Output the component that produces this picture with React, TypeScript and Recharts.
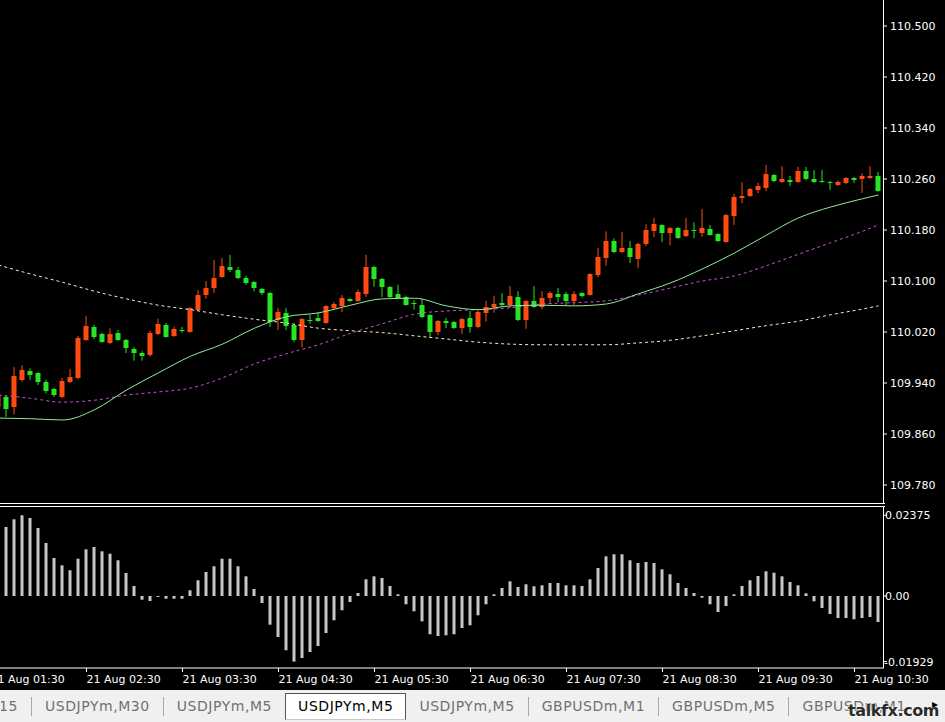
import React from "react";
import { Bar, ComposedChart, Line, XAxis, YAxis } from "recharts";

// candle index of the first entry (partly hidden behind the left edge)
const FIRST_BAR = -1;

const opens = [
  109.902, 109.918, 109.902, 109.945, 109.959, 109.956, 109.942, 109.931, 109.918, 109.942,
  109.948, 110.007, 110.028, 110.017, 110.003, 110.019, 110.007, 109.993, 109.987, 109.984,
  110.017, 110.031, 110.014, 110.023, 110.020, 110.055, 110.078, 110.089, 110.106, 110.122,
  110.117, 110.105, 110.098, 110.087, 110.081, 110.039, 110.050, 110.031, 110.007, 110.039,
  110.042, 110.034, 110.058, 110.061, 110.072, 110.069, 110.080, 110.122, 110.103, 110.091,
  110.080, 110.075, 110.066, 110.062, 110.047, 110.020, 110.037, 110.036, 110.026, 110.042,
  110.028, 110.050, 110.059, 110.066, 110.062, 110.075, 110.039, 110.069, 110.059, 110.073,
  110.080, 110.080, 110.069, 110.081, 110.078, 110.109, 110.136, 110.163, 110.146, 110.152,
  110.135, 110.158, 110.178, 110.188, 110.175, 110.183, 110.171, 110.180, 110.175, 110.182,
  110.174, 110.161, 110.202, 110.230, 110.233, 110.243, 110.246, 110.266, 110.255, 110.258,
  110.255, 110.273, 110.260, 110.257, 110.255, 110.251, 110.254, 110.262, 110.260, 110.262,
  110.265,
];
const highs = [
  109.924, 109.921, 109.965, 109.968, 109.963, 109.957, 109.945, 109.932, 109.948, 109.962,
  110.014, 110.045, 110.031, 110.019, 110.026, 110.023, 110.009, 109.996, 109.990, 110.022,
  110.041, 110.034, 110.028, 110.028, 110.059, 110.086, 110.100, 110.133, 110.136, 110.141,
  110.122, 110.108, 110.100, 110.089, 110.083, 110.058, 110.058, 110.033, 110.042, 110.047,
  110.051, 110.062, 110.067, 110.078, 110.073, 110.087, 110.141, 110.124, 110.105, 110.092,
  110.094, 110.077, 110.070, 110.072, 110.048, 110.039, 110.042, 110.037, 110.042, 110.053,
  110.053, 110.069, 110.077, 110.081, 110.092, 110.084, 110.070, 110.092, 110.084, 110.084,
  110.089, 110.083, 110.084, 110.083, 110.112, 110.152, 110.178, 110.167, 110.177, 110.163,
  110.160, 110.189, 110.199, 110.189, 110.185, 110.185, 110.199, 110.192, 110.213, 110.188,
  110.175, 110.205, 110.237, 110.255, 110.246, 110.254, 110.282, 110.268, 110.280, 110.265,
  110.279, 110.279, 110.274, 110.274, 110.257, 110.258, 110.263, 110.263, 110.269, 110.280,
  110.271,
];
const lows = [
  109.899, 109.887, 109.891, 109.942, 109.945, 109.937, 109.924, 109.918, 109.916, 109.940,
  109.946, 110.006, 110.009, 110.003, 110.001, 110.006, 109.987, 109.975, 109.975, 109.982,
  110.015, 110.011, 110.012, 110.019, 110.019, 110.053, 110.072, 110.081, 110.105, 110.114,
  110.103, 110.094, 110.084, 110.078, 110.028, 110.023, 110.023, 110.004, 109.996, 110.033,
  110.036, 110.033, 110.055, 110.051, 110.067, 110.067, 110.075, 110.091, 110.075, 110.073,
  110.072, 110.061, 110.055, 110.042, 110.011, 110.015, 110.026, 110.025, 110.017, 110.019,
  110.026, 110.036, 110.050, 110.059, 110.058, 110.037, 110.025, 110.058, 110.056, 110.066,
  110.067, 110.062, 110.062, 110.075, 110.077, 110.106, 110.124, 110.144, 110.144, 110.128,
  110.120, 110.155, 110.169, 110.161, 110.156, 110.166, 110.169, 110.167, 110.169, 110.171,
  110.161, 110.160, 110.188, 110.222, 110.232, 110.238, 110.241, 110.255, 110.254, 110.249,
  110.254, 110.258, 110.254, 110.254, 110.243, 110.249, 110.252, 110.254, 110.238, 110.260,
  110.240,
];
const closes = [
  109.921, 109.899, 109.951, 109.960, 109.953, 109.942, 109.928, 109.921, 109.943, 109.950,
  110.011, 110.030, 110.012, 110.004, 110.017, 110.007, 109.995, 109.987, 109.982, 110.019,
  110.033, 110.012, 110.025, 110.023, 110.058, 110.078, 110.089, 110.105, 110.124, 110.117,
  110.105, 110.097, 110.089, 110.081, 110.036, 110.051, 110.030, 110.007, 110.041, 110.039,
  110.037, 110.061, 110.064, 110.073, 110.069, 110.083, 110.122, 110.103, 110.091, 110.075,
  110.073, 110.062, 110.064, 110.044, 110.020, 110.037, 110.034, 110.026, 110.041, 110.028,
  110.051, 110.059, 110.064, 110.062, 110.077, 110.039, 110.069, 110.059, 110.073, 110.081,
  110.075, 110.069, 110.080, 110.077, 110.111, 110.138, 110.163, 110.146, 110.152, 110.138,
  110.158, 110.180, 110.189, 110.175, 110.183, 110.167, 110.180, 110.178, 110.183, 110.172,
  110.163, 110.203, 110.232, 110.233, 110.244, 110.249, 110.268, 110.257, 110.260, 110.255,
  110.273, 110.260, 110.255, 110.255, 110.254, 110.255, 110.262, 110.258, 110.265, 110.265,
  110.241,
];

// moving averages, read every 4th bar
const maIdx = [-1, 3, 7, 11, 15, 19, 23, 27, 31, 35, 39, 43, 47, 51, 55, 59, 63, 67, 71, 75, 79, 83, 87, 91, 95, 99, 103, 107, 109];
const maFast = [
  109.885, 109.884, 109.882, 109.898, 109.929, 109.956, 109.982, 110.001, 110.026, 110.044,
  110.050, 110.062, 110.072, 110.073, 110.061, 110.055, 110.061, 110.062, 110.061, 110.064,
  110.080, 110.097, 110.119, 110.144, 110.172, 110.199, 110.216, 110.229, 110.235,
];
const maMid = [
  109.921, 109.916, 109.910, 109.913, 109.921, 109.926, 109.932, 109.948, 109.970, 109.986,
  110.000, 110.018, 110.033, 110.048, 110.053, 110.055, 110.058, 110.064, 110.066, 110.069,
  110.078, 110.089, 110.100, 110.108, 110.124, 110.142, 110.160, 110.178, 110.188,
];
const maSlow = [
  110.125, 110.111, 110.098, 110.084, 110.072, 110.062, 110.055, 110.047, 110.040, 110.034,
  110.026, 110.022, 110.019, 110.014, 110.009, 110.004, 110.001, 110.000, 110.000, 110.000,
  110.003, 110.007, 110.014, 110.022, 110.030, 110.037, 110.047, 110.056, 110.061,
];

// oscillator histogram, bars 0..109
const osma = [
  0.0203, 0.02255, 0.02375, 0.02293, 0.02, 0.01558, 0.01117, 0.00903, 0.00756, 0.01097,
  0.01373, 0.01441, 0.01314, 0.01244, 0.0105, 0.00676, 0.00294, -0.00109, -0.00147, -0.0003,
  -0.0008, -0.0008, -0.0008, 0.00168, 0.00462, 0.00706, 0.00873, 0.01097, 0.01097, 0.00873,
  0.00579, 0.00206, -0.00206, -0.00844, -0.01205, -0.01596, -0.01929, -0.01823, -0.01646, -0.0147,
  -0.01088, -0.00714, -0.0042, -0.00176, 0.00088, 0.00491, 0.00579, 0.00529, 0.00294, 0.0005,
  -0.00244, -0.0045, -0.00744, -0.01126, -0.01176, -0.01155, -0.01126, -0.00941, -0.00861, -0.00567,
  -0.00244, 0.0005, 0.00235, 0.00432, 0.00265, 0.00344, 0.00285, 0.00315, 0.00382, 0.00382,
  0.00315, 0.00315, 0.00294, 0.00491, 0.00823, 0.01167, 0.01226, 0.01226, 0.0105, 0.0097,
  0.01, 0.0097, 0.00785, 0.00638, 0.00382, 0.00235, 0.00088, -0.0005, -0.00244, -0.0047,
  -0.00294, 0.0005, 0.00294, 0.00462, 0.00588, 0.00726, 0.00685, 0.00579, 0.00412, 0.00315,
  0.00079, -0.00156, -0.00353, -0.00529, -0.00647, -0.00647, -0.00685, -0.00647, -0.00617, -0.00764,
];

const priceTicks = [109.78, 109.86, 109.94, 110.02, 110.1, 110.18, 110.26, 110.34, 110.42, 110.5];
const osmaTicks = [-0.01929, 0, 0.02375];
const timeIdx = [-2, 10, 22, 34, 46, 58, 70, 82, 94, 106];
const timeLabels = [
  "21 Aug 01:30", "21 Aug 02:30", "21 Aug 03:30", "21 Aug 04:30", "21 Aug 05:30",
  "21 Aug 06:30", "21 Aug 07:30", "21 Aug 08:30", "21 Aug 09:30", "21 Aug 10:30",
];
const tabs = ["USDJPYm,M15", "USDJPYm,M30", "USDJPYm,M5", "USDJPYm,M5", "USDJPYm,M5", "GBPUSDm,M1", "GBPUSDm,M5", "GBPUSDm,M1"];
const activeTab = 3;

const BULL = "#ff4a10";
const BEAR = "#26e626";
const FONT = "DejaVu Sans";
const X_DOMAIN: [number, number] = [-0.8125, 109.6875];

const maAt = (series: number[], i: number) => {
  const k = maIdx.indexOf(i);
  return k < 0 ? null : series[k];
};

const rows = opens.map((o, k) => {
  const i = k + FIRST_BAR;
  return {
    i,
    o,
    h: highs[k],
    l: lows[k],
    c: closes[k],
    range: [lows[k], highs[k]],
    osma: i >= 0 ? osma[i] : null,
    fast: maAt(maFast, i),
    mid: maAt(maMid, i),
    slow: maAt(maSlow, i),
  };
});

function Candle(props: any) {
  const { x, y, width, height, payload } = props;
  if (!payload || width == null || y == null) return null;
  const { o, h, l, c } = payload;
  const top = Math.min(y, y + height);
  const span = Math.abs(height);
  const k = h > l ? span / (h - l) : 0;
  const py = (v: number) => top + (h - v) * k;
  const color = c > o ? BULL : BEAR;
  const cx = x + width / 2;
  const bTop = Math.round(py(Math.max(o, c)));
  const bBot = Math.round(py(Math.min(o, c)));
  return (
    <g>
      <line x1={cx} x2={cx} y1={top} y2={top + span} stroke={color} strokeWidth={1} />
      <rect x={x} y={bTop} width={width} height={Math.max(1, bBot - bTop)} fill={color} />
    </g>
  );
}

function PriceTick({ x, y, payload }: any) {
  return (
    <text x={x} y={y} dy="0.36em" fill="#fff" fontSize={11} fontFamily={FONT} textAnchor="start">
      {Number(payload.value).toFixed(3)}
    </text>
  );
}

function OsmaTick({ x, y, payload }: any) {
  const v = Number(payload.value);
  return (
    <text x={v < 0 ? x - 6 : x - 5} y={y} dy="0.36em" fill="#fff" fontSize={11} fontFamily={FONT} textAnchor="start">
      {v === 0 ? "0.00" : v.toFixed(5)}
    </text>
  );
}

function TimeTick({ x, y, payload }: any) {
  const k = timeIdx.indexOf(payload.value);
  return (
    <text x={x} y={y + 5} dominantBaseline="central" fill="#fff" fontSize={11} fontFamily={FONT} textAnchor="start">
      {timeLabels[k]}
    </text>
  );
}

const line = (left: number, top: number, width: number, height: number): React.CSSProperties => ({
  position: "absolute",
  left,
  top,
  width,
  height,
  background: "#fff",
});

export default function App() {
  return (
    <div
      style={{
        position: "absolute",
        left: 0,
        top: 0,
        width: 945,
        height: 722,
        background: "#000",
        overflow: "hidden",
        fontFamily: FONT,
      }}
    >
      <div style={{ position: "absolute", left: 0, top: 0 }}>
        <ComposedChart width={945} height={504} data={rows} margin={{ top: 0, right: 0, bottom: 0, left: 0 }}>
          <XAxis dataKey="i" type="number" domain={X_DOMAIN} allowDataOverflow hide />
          <YAxis
            orientation="right"
            type="number"
            width={61}
            domain={[109.7502, 110.5408]}
            allowDataOverflow
            ticks={priceTicks}
            interval={0}
            tickSize={3}
            tickMargin={3}
            axisLine={false}
            tickLine={{ stroke: "#fff" }}
            tick={<PriceTick />}
          />
          <Line type="monotone" dataKey="slow" stroke="#f2f2c0" strokeWidth={1} strokeDasharray="3 3" dot={false} connectNulls isAnimationActive={false} />
          <Line type="monotone" dataKey="mid" stroke="#c452d4" strokeWidth={1} strokeDasharray="3 3" dot={false} connectNulls isAnimationActive={false} />
          <Line type="monotone" dataKey="fast" stroke="#90ee98" strokeWidth={1} dot={false} connectNulls isAnimationActive={false} />
          <Bar dataKey="range" barSize={5} shape={<Candle />} isAnimationActive={false} />
        </ComposedChart>
      </div>

      <div style={{ position: "absolute", left: 0, top: 506 }}>
        <ComposedChart width={945} height={184} data={rows} margin={{ top: 1, right: 0, bottom: 0, left: 0 }}>
          <XAxis
            dataKey="i"
            type="number"
            domain={X_DOMAIN}
            allowDataOverflow
            ticks={timeIdx}
            interval={0}
            height={22}
            tickSize={4}
            axisLine={{ stroke: "#fff" }}
            tickLine={{ stroke: "#fff" }}
            tick={<TimeTick />}
          />
          <YAxis
            orientation="right"
            type="number"
            width={61}
            domain={[-0.02117, 0.02617]}
            allowDataOverflow
            ticks={osmaTicks}
            interval={0}
            tickSize={3}
            tickMargin={3}
            axisLine={false}
            tickLine={{ stroke: "#fff" }}
            tick={<OsmaTick />}
          />
          <Bar dataKey="osma" barSize={3} fill="#c8c8c8" isAnimationActive={false} />
        </ComposedChart>
      </div>

      {/* window frames */}
      <div style={line(0, 503, 885, 1)} />
      <div style={line(883, 0, 1, 504)} />
      <div style={line(0, 506, 885, 1)} />
      <div style={line(883, 506, 1, 162)} />

      {/* tab strip */}
      <div
        style={{
          position: "absolute",
          left: 0,
          top: 690,
          width: 945,
          height: 32,
          background: "#f0f0f0",
          display: "flex",
          alignItems: "flex-start",
          overflow: "hidden",
          fontSize: 14,
          letterSpacing: 0.55,
        }}
      >
        {tabs.map((t, k) => {
          const active = k === activeTab;
          const sep = k > 0 && k !== activeTab && k !== activeTab + 1;
          return (
            <React.Fragment key={k}>
              {sep && <div style={{ width: 1, height: 19, marginTop: 7, background: "#a8a8a8", flex: "none" }} />}
              <div
                style={{
                  flex: "none",
                  display: "flex",
                  justifyContent: k === 0 ? "flex-end" : "flex-start",
                  width: k === 0 ? 17 : undefined,
                  overflow: k === 0 ? "hidden" : undefined,
                  height: 25,
                  marginTop: 3,
                  lineHeight: "25px",
                  padding: k === 0 ? "0 12px 0 0" : "0 12px",
                  background: active ? "#fff" : "transparent",
                  border: active ? "1px solid #555" : "1px solid transparent",
                  borderBottom: active ? "1px solid #c8c8c8" : "1px solid transparent",
                  color: active ? "#000" : "#707070",
                  whiteSpace: "nowrap",
                }}
              >
                {t}
              </div>
            </React.Fragment>
          );
        })}
      </div>
      <div
        style={{
          position: "absolute",
          left: 848,
          top: 702,
          fontSize: 16,
          lineHeight: "18px",
          fontWeight: "bold",
          color: "#2b2b2b",
          textShadow: "0 0 2px #fff, 0 0 2px #fff",
          letterSpacing: -0.4,
        }}
      >
        talkfx.com
      </div>
      <div style={{ position: "absolute", left: 932, top: 697, fontSize: 12, color: "#000" }}>▸</div>
    </div>
  );
}
